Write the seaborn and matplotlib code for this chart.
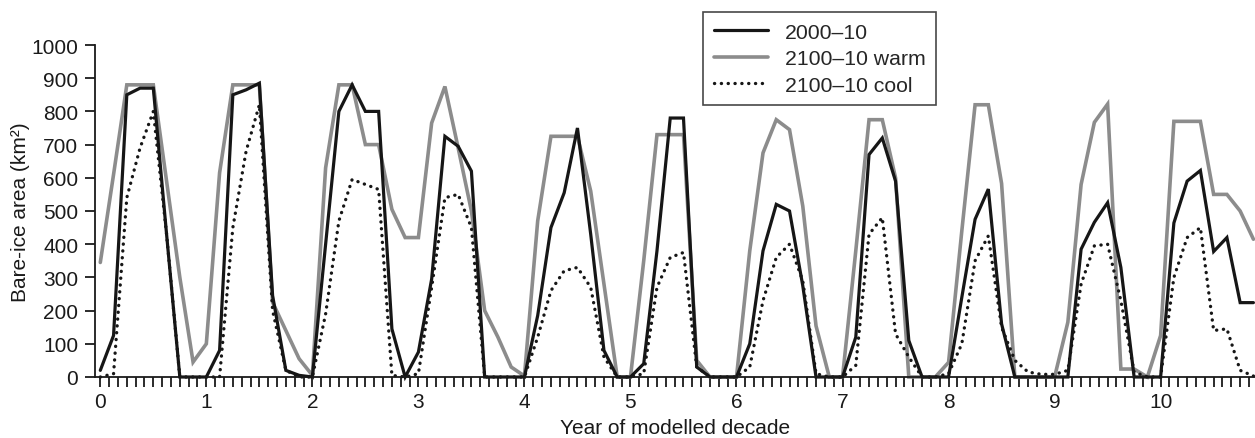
import numpy as np
import pandas as pd
import matplotlib
matplotlib.use("Agg")
import matplotlib.pyplot as plt
import seaborn as sns
from matplotlib.ticker import MultipleLocator

# ---- data (8 model steps per year) ----
steps_per_year = 8
series_names = ["2000\u201310", "2100\u201310 warm", "2100\u201310 cool"]

area_2000 = [20, 125, 850, 870, 870, 430, 0, 0,
             0, 80, 850, 865, 885, 245, 20, 5,
             0, 400, 800, 880, 800, 800, 145, 0,
             75, 295, 725, 695, 620, 0, 0, 0,
             0, 185, 450, 555, 750, 430, 80, 0,
             0, 40, 380, 780, 780, 30, 0, 0,
             0, 100, 380, 520, 500, 275, 0, 0,
             0, 120, 670, 720, 590, 110, 0, 0,
             0, 240, 475, 566, 160, 0, 0, 0,
             0, 0, 385, 466, 525, 330, 0, 0,
             0, 464, 590, 622, 378, 420, 224, 224]

area_2100_warm = [345, 610, 880, 880, 880, 590, 300, 45,
                  100, 615, 880, 880, 880, 225, 140, 55,
                  5, 630, 880, 880, 700, 700, 505, 420,
                  420, 765, 875, 690, 500, 200, 120, 30,
                  3, 470, 725, 725, 725, 560, 280, 0,
                  0, 350, 730, 730, 730, 50, 0, 0,
                  0, 380, 675, 775, 745, 515, 154, 0,
                  0, 380, 775, 775, 600, 0, 0, 0,
                  44, 440, 820, 820, 583, 0, 0, 0,
                  0, 165, 580, 767, 822, 24, 24, 0,
                  125, 770, 770, 770, 550, 550, 500, 415]

area_2100_cool = [0, 10, 540, 690, 800, 430, 0, 0,
                  0, 0, 450, 680, 820, 200, 20, 0,
                  0, 190, 470, 595, 580, 565, 5, 0,
                  10, 270, 540, 550, 450, 0, 0, 0,
                  0, 120, 260, 320, 330, 270, 60, 0,
                  0, 10, 270, 360, 375, 30, 0, 0,
                  0, 30, 230, 360, 400, 290, 10, 0,
                  0, 35, 430, 480, 130, 60, 0, 0,
                  10, 100, 350, 425, 150, 50, 15, 8,
                  8, 20, 280, 395, 400, 230, 15, 0,
                  0, 300, 420, 450, 140, 145, 20, 3]

year_ticks = list(range(0, 11))

n = len(area_2000)
years = np.arange(n) / steps_per_year
df = pd.DataFrame({
    "year": np.tile(years, 3),
    "area": area_2000 + area_2100_warm + area_2100_cool,
    "series": np.repeat(series_names, n),
})

sns.set_theme(style="ticks")
plt.rcParams["font.family"] = ["Liberation Sans", "DejaVu Sans"]

W, H = 1255, 439
fig = plt.figure(figsize=(W / 100, H / 100), dpi=100)
ax = fig.add_axes([95 / W, (H - 378) / H, (1255 - 95) / W, (378 - 46) / H])

styles = {
    series_names[1]: dict(color="#8c8c8c", lw=2.6, ls="-"),
    series_names[0]: dict(color="#161616", lw=2.3, ls="-"),
    series_names[2]: dict(color="#161616", lw=2.4, ls=(0, (0.05, 2.0))),
}
handles = {}
for name in [series_names[1], series_names[0], series_names[2]]:
    st = styles[name]
    sub = df[df["series"] == name]
    sns.lineplot(data=sub, x="year", y="area", ax=ax, color=st["color"],
                 linewidth=st["lw"], linestyle=st["ls"], label=name,
                 dash_capstyle="round", solid_joinstyle="miter",
                 clip_on=False, legend=False)
    handles[name] = ax.lines[-1]

ax.set_xlim(-0.05, 10.89)
ax.set_ylim(0, 1000)
ax.set_yticks(range(0, 1001, 100))
ax.set_xticks(year_ticks)
ax.xaxis.set_minor_locator(MultipleLocator(1 / 12))
ax.tick_params(axis="both", which="major", labelsize=15, colors="#1a1a1a",
               width=1.3, length=7, direction="out")
ax.tick_params(axis="x", which="minor", width=1.3, length=7, direction="out",
               colors="#1a1a1a")
ax.tick_params(axis="y", pad=5)
ax.tick_params(axis="x", pad=4)
for s in ["top", "right"]:
    ax.spines[s].set_visible(False)
for s in ["left", "bottom"]:
    ax.spines[s].set_linewidth(1.3)
    ax.spines[s].set_color("#1a1a1a")

ax.set_xlabel("Year of modelled decade", fontsize=15, color="#1a1a1a", labelpad=5)
ax.set_ylabel("Bare-ice area (km\u00b2)", fontsize=15, color="#1a1a1a", labelpad=1)

leg = fig.legend([handles[s] for s in series_names], series_names,
                 loc="upper left", bbox_to_anchor=(703 / W, (H - 13) / H),
                 frameon=True, fancybox=False, edgecolor="#1a1a1a",
                 fontsize=15.3, handlelength=2.55, handletextpad=0.8,
                 labelspacing=0.35, borderpad=0.5, borderaxespad=0)
leg.get_frame().set_linewidth(1.2)

fig.savefig("out.png", dpi=100)
